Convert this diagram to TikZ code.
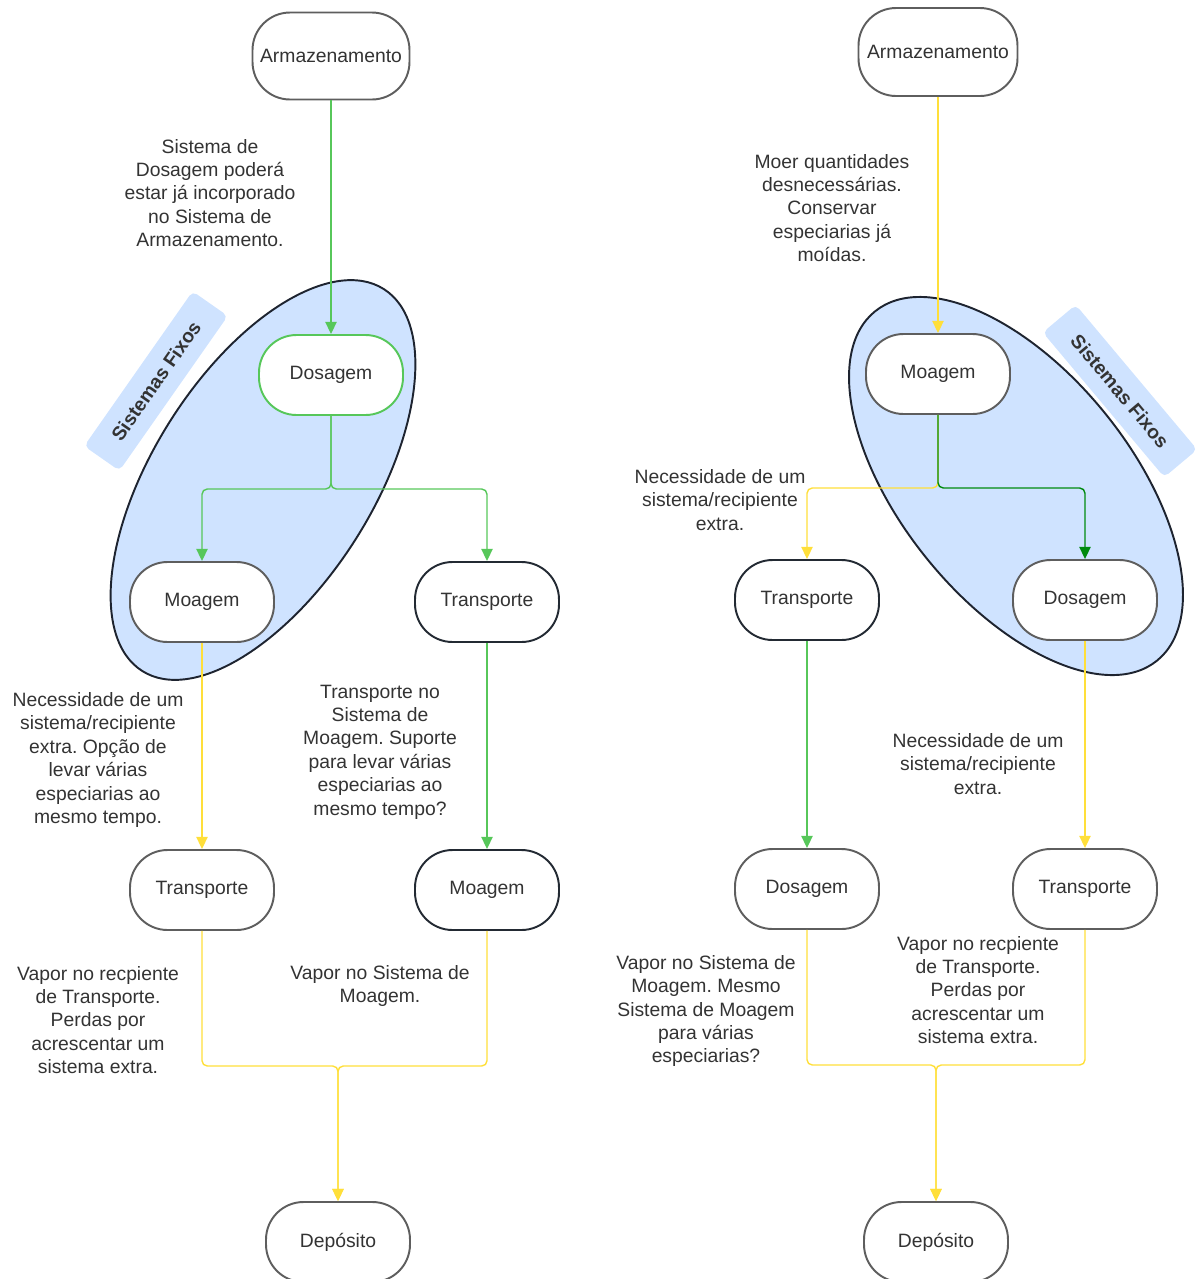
\documentclass[tikz,border=0pt]{standalone}
\usepackage{fontspec}
\setmainfont{Liberation Sans}
\usetikzlibrary{arrows.meta}
\definecolor{txtgray}{HTML}{333333}
\definecolor{nodegray}{HTML}{5E5E5E}
\definecolor{nodedark}{HTML}{232A33}
\definecolor{lightgreen}{HTML}{57C75A}
\definecolor{darkgreen}{HTML}{008A0E}
\definecolor{lineyellow}{HTML}{FFDF3A}
\definecolor{fixblue}{HTML}{CFE3FF}
\definecolor{fixborder}{HTML}{1E2430}
\frenchspacing
\begin{document}
\begin{tikzpicture}[x=0.02cm,y=-0.02cm,
    every node/.style={font=\fontsize{11}{13.3}\selectfont,text=txtgray},
    stage/.style={draw=nodegray,line width=1.1pt,fill=white,rounded corners=0.75cm,minimum width=2.88cm,minimum height=1.6cm},
    stagedark/.style={stage,draw=nodedark},
    note/.style={align=center,inner sep=0pt},
    fixlabel/.style={fill=fixblue,rounded corners=3pt,minimum width=3.78cm,minimum height=0.86cm,font=\fontsize{11}{13.3}\selectfont\bfseries},
    flow/.style={line width=0.8pt,rounded corners=3pt,-{Triangle[length=7pt,width=6.5pt]}}]
    \def\pageWidth{1197}
    \def\pageHeight{1279}
    \useasboundingbox (0,0) rectangle (\pageWidth,\pageHeight);

    % sistemas fixos
    \draw [fill=fixblue,draw=fixborder,line width=1.1pt,rotate around={57.7:(263,480)}] (263,480) ellipse [x radius=4.52cm,y radius=2.2cm];
    \draw [fill=fixblue,draw=fixborder,line width=1.1pt,rotate around={-51.1:(1016,486)}] (1016,486) ellipse [x radius=4.49cm,y radius=2.3cm];
    \node [fixlabel,rotate=55] (fixL) at (156,381) {Sistemas Fixos};
    \node [fixlabel,rotate=-50] (fixR) at (1120,391) {Sistemas Fixos};

    % left column
    \node [stage,minimum width=3.14cm,minimum height=1.74cm] (armL) at (331,56) {Armazenamento};
    \node [stage,draw=lightgreen] (dosL) at (331,375) {Dosagem};
    \node [stage] (moaL) at (202,602) {Moagem};
    \node [stagedark] (traL) at (487,602) {Transporte};
    \node [stage] (traL2) at (202,890) {Transporte};
    \node [stagedark] (moaL2) at (487,890) {Moagem};
    \node [stage] (depL) at (338,1242) {Depósito};

    % right column
    \node [stage,minimum width=3.18cm,minimum height=1.76cm] (armR) at (938,52) {Armazenamento};
    \node [stage] (moaR) at (938,374) {Moagem};
    \node [stagedark] (traR) at (807,600) {Transporte};
    \node [stage] (dosR) at (1085,600) {Dosagem};
    \node [stage] (dosR2) at (807,889) {Dosagem};
    \node [stage] (traR2) at (1085,889) {Transporte};
    \node [stage] (depR) at (936,1242) {Depósito};

    % notes
    \node [note] (nL1) at (210,193) {Sistema de\\Dosagem poderá\\estar já incorporado\\no Sistema de\\Armazenamento.};
    \node [note] (nL2) at (98,760) {Necessidade de um\\sistema/recipiente\\extra. Opção de\\levar várias\\especiarias ao\\mesmo tempo.};
    \node [note] (nL3) at (380,752) {Transporte no\\Sistema de\\Moagem. Suporte\\para levar várias\\especiarias ao\\mesmo tempo?};
    \node [note] (nL4) at (98,1020) {Vapor no recpiente\\de Transporte.\\Perdas por\\acrescentar um\\sistema extra.};
    \node [note] (nL5) at (380,986) {Vapor no Sistema de\\Moagem.};
    \node [note] (nR1) at (832,208) {Moer quantidades\\desnecessárias.\\Conservar\\especiarias já\\moídas.};
    \node [note] (nR2) at (720,500) {Necessidade de um\\sistema/recipiente\\extra.};
    \node [note] (nR3) at (978,764) {Necessidade de um\\sistema/recipiente\\extra.};
    \node [note] (nR4) at (706,1011) {Vapor no Sistema de\\Moagem. Mesmo\\Sistema de Moagem\\para várias\\especiarias?};
    \node [note] (nR5) at (978,990) {Vapor no recpiente\\de Transporte.\\Perdas por\\acrescentar um\\sistema extra.};

    % junctions
    \coordinate (jL) at (331,489);
    \coordinate (jLb) at (338,1066);
    \coordinate (jR) at (938,488);
    \coordinate (jRb) at (936,1065);

    % left connectors
    \draw [flow,lightgreen] (armL.south) -- (dosL.north);
    \draw [flow,lightgreen] (dosL.south) -- (jL) -| (moaL.north);
    \draw [flow,lightgreen] (dosL.south) -- (jL) -| (traL.north);
    \draw [flow,lineyellow] (moaL.south) -- (traL2.north);
    \draw [flow,lightgreen] (traL.south) -- (moaL2.north);
    \draw [flow,lineyellow] (traL2.south) |- (jLb) -- (depL.north);
    \draw [flow,lineyellow] (moaL2.south) |- (jLb) -- (depL.north);

    % right connectors
    \draw [flow,lineyellow] (armR.south) -- (moaR.north);
    \draw [flow,lineyellow] (moaR.south) -- (jR) -| (traR.north);
    \draw [flow,darkgreen] (moaR.south) -- (jR) -| (dosR.north);
    \draw [flow,lightgreen] (traR.south) -- (dosR2.north);
    \draw [flow,lineyellow] (dosR.south) -- (traR2.north);
    \draw [flow,lineyellow] (dosR2.south) |- (jRb) -- (depR.north);
    \draw [flow,lineyellow] (traR2.south) |- (jRb) -- (depR.north);
\end{tikzpicture}
\end{document}
